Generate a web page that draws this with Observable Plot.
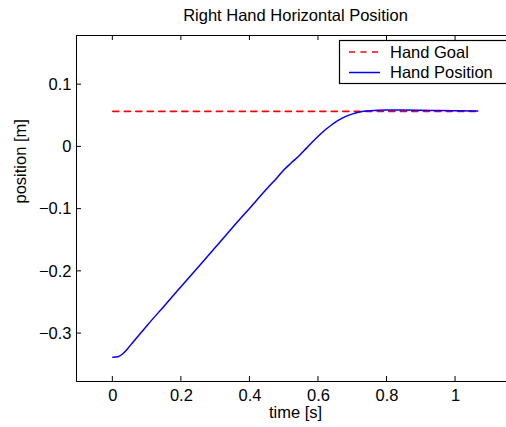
<!DOCTYPE html>
<html>
<head>
<meta charset="utf-8">
<script src="https://cdn.jsdelivr.net/npm/d3@7"></script>
<script src="https://cdn.jsdelivr.net/npm/@observablehq/plot@0.6"></script>
<style>
  html, body { margin: 0; padding: 0; background: white; }
  #wrap { width: 506px; height: 427px; overflow: hidden; position: relative; }
  #wrap svg { max-width: none !important; }
</style>
</head>
<body>
<div id="wrap"></div>
<script>
// ---- data ----
const title = "Right Hand Horizontal Position";
const xLabel = "time [s]";
const yLabel = "position [m]";
const seriesNames = ["Hand Goal", "Hand Position"];
const xTicks = [0, 0.2, 0.4, 0.6, 0.8, 1];
const yTicks = [-0.3, -0.2, -0.1, 0, 0.1];
const xDomain = [-0.106, 1.172];
const yDomain = [-0.377, 0.179];

const goalTime = [0, 1.065];
const goalValue = [0.057, 0.057];

const posTime = [0, 0.015, 0.03, 0.045, 0.06, 0.08, 0.10, 0.15, 0.20, 0.25, 0.30, 0.35, 0.40, 0.45, 0.48, 0.50, 0.52, 0.545, 0.565, 0.585, 0.60, 0.62, 0.64, 0.66, 0.68, 0.70, 0.72, 0.75, 0.80, 0.85, 0.90, 0.95, 1.00, 1.065];
const posValue = [-0.338, -0.3372, -0.332, -0.323, -0.313, -0.300, -0.287, -0.2555, -0.224, -0.1925, -0.161, -0.129, -0.098, -0.067, -0.049, -0.0365, -0.026, -0.0135, -0.002, 0.0095, 0.0175, 0.0275, 0.036, 0.0435, 0.049, 0.053, 0.056, 0.058, 0.0591, 0.0592, 0.0589, 0.0584, 0.0580, 0.0578];

const goal = goalTime.map((t, i) => ({t, v: goalValue[i]}));
const pos = posTime.map((t, i) => ({t, v: posValue[i]}));

const fmtX = d => String(d);
const fmtY = d => d < 0 ? "\u2212" + String(-d) : String(d);

const font = "'Liberation Sans', Arial, Helvetica, sans-serif";

const W = 520, H = 427, mL = 76, mR = 6, mT = 35, mB = 46;
const tickLen = 5;

const chart = Plot.plot({
  width: W,
  height: H,
  marginLeft: mL,
  marginRight: mR,
  marginTop: mT,
  marginBottom: mB,
  style: {fontFamily: font, fontSize: "16.5px", background: "white", color: "black", maxWidth: "none"},
  x: {domain: xDomain},
  y: {domain: yDomain},
  marks: [
    Plot.ruleX([xDomain[0]], {stroke: "black", strokeWidth: 1}),
    Plot.ruleY([yDomain[0], yDomain[1]], {stroke: "black", strokeWidth: 1}),
    Plot.axisX(xTicks, {anchor: "bottom", tickSize: 0, tickPadding: 8, tickFormat: fmtX, label: null}),
    Plot.axisY(yTicks, {anchor: "left", tickSize: 0, tickPadding: 5, tickFormat: fmtY, label: null}),
    Plot.line(goal, {x: "t", y: "v", stroke: "#ff0000", strokeWidth: 1.6, strokeDasharray: "6,5.5"}),
    Plot.line(pos, {x: "t", y: "v", stroke: "#0000ff", strokeWidth: 1.5, curve: "monotone-x"}),
    Plot.text([title], {frameAnchor: "top", dy: -20, lineAnchor: "middle", fontSize: 16.5}),
    Plot.text([xLabel], {frameAnchor: "bottom", dy: 31, lineAnchor: "middle", fontSize: 16.5}),
    Plot.text([yLabel], {frameAnchor: "left", dx: -56, dy: -5, rotate: -90, lineAnchor: "middle", fontSize: 16.5})
  ]
});

const svg = d3.select(chart);

// inward tick marks, positioned through Plot's own scales
const sx = chart.scale("x"), sy = chart.scale("y");
const frameTop = mT, frameBottom = H - mB, frameLeft = mL;
const tg = svg.append("g").attr("stroke", "black").attr("stroke-width", 1);
for (const t of xTicks) {
  const px = sx.apply(t);
  tg.append("line").attr("x1", px).attr("x2", px).attr("y1", frameBottom).attr("y2", frameBottom - tickLen);
  tg.append("line").attr("x1", px).attr("x2", px).attr("y1", frameTop).attr("y2", frameTop + tickLen);
}
for (const v of yTicks) {
  const py = sy.apply(v);
  tg.append("line").attr("x1", frameLeft).attr("x2", frameLeft + tickLen).attr("y1", py).attr("y2", py);
}

// legend
const lg = svg.append("g").attr("font-family", font).attr("font-size", "16.5px").attr("text-anchor", "start");
lg.append("rect").attr("x", 339.5).attr("y", 40.5).attr("width", 172).attr("height", 43)
  .attr("fill", "white").attr("stroke", "black").attr("stroke-width", 1.2);
const items = [
  {name: seriesNames[0], color: "#ff0000", dash: "6,5.5", y: 52},
  {name: seriesNames[1], color: "#0000ff", dash: null, y: 72.5}
];
for (const it of items) {
  lg.append("line").attr("x1", 349).attr("x2", 380).attr("y1", it.y).attr("y2", it.y)
    .attr("stroke", it.color).attr("stroke-width", 1.5).attr("stroke-dasharray", it.dash);
  lg.append("text").attr("x", 390).attr("y", it.y).attr("dy", "0.35em").attr("fill", "black")
    .attr("text-anchor", "start").text(it.name);
}

document.getElementById("wrap").appendChild(chart);
</script>
</body>
</html>
